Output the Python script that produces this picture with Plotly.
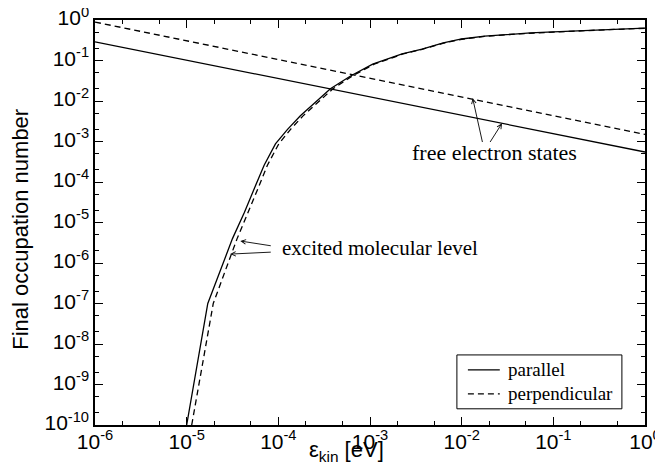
import plotly.graph_objects as go

# ---- data ----
free_x = [1e-6, 1.0]
free_par_y = [0.29, 5.5e-4]
free_perp_y = [0.89, 1.5e-3]

exc_par_x = [1.0e-5, 1.7e-5, 3.16e-5, 4.27e-5, 5.5e-5, 7.0e-5, 9.3e-5, 1.26e-4, 1.74e-4,
             3.7e-4, 6.2e-4, 1.07e-3, 2.24e-3, 3.7e-3, 6.3e-3, 1e-2, 1.78e-2, 3.16e-2,
             5.62e-2, 0.1, 0.316, 1.0]
exc_par_y = [1e-10, 1e-7, 4.0e-6, 1.8e-5, 7.1e-5, 2.6e-4, 8.7e-4, 2.0e-3, 4.3e-3,
             0.020, 0.042, 0.081, 0.145, 0.19, 0.272, 0.34, 0.398, 0.442,
             0.479, 0.507, 0.569, 0.631]

exc_perp_x = [1.135e-5, 1.95e-5, 3.55e-5, 4.73e-5, 6.03e-5, 7.6e-5, 1.01e-4, 1.36e-4, 1.86e-4,
              3.94e-4, 6.46e-4, 1.11e-3, 2.29e-3, 3.76e-3, 6.35e-3, 1e-2, 1.78e-2, 3.16e-2,
              5.62e-2, 0.1, 0.316, 1.0]
exc_perp_y = [1e-10, 1e-7, 4.0e-6, 1.8e-5, 7.1e-5, 2.6e-4, 8.7e-4, 2.0e-3, 4.3e-3,
              0.020, 0.042, 0.081, 0.145, 0.19, 0.268, 0.335, 0.393, 0.437,
              0.474, 0.502, 0.564, 0.625]

x_tickvals = [1e-6, 1e-5, 1e-4, 1e-3, 1e-2, 1e-1, 1e0]
x_ticktext = ["10<sup>-6</sup>", "10<sup>-5</sup>", "10<sup>-4</sup>", "10<sup>-3</sup>",
              "10<sup>-2</sup>", "10<sup>-1</sup>", "10<sup>0</sup>"]
y_tickvals = [1e-10, 1e-9, 1e-8, 1e-7, 1e-6, 1e-5, 1e-4, 1e-3, 1e-2, 1e-1, 1e0]
y_ticktext = ["10<sup>-10</sup>", "10<sup>-9</sup>", "10<sup>-8</sup>", "10<sup>-7</sup>",
              "10<sup>-6</sup>", "10<sup>-5</sup>", "10<sup>-4</sup>", "10<sup>-3</sup>",
              "10<sup>-2</sup>", "10<sup>-1</sup>", "10<sup>0</sup>"]
legend_names = ["parallel", "perpendicular"]

SANS = "Liberation Sans, Arial, sans-serif"
SERIF = "Liberation Serif, Times New Roman, serif"
LW = 1.3
DASH = "6px,4px"
DASHES = ["solid", DASH]

fig = go.Figure()
fig.add_trace(go.Scatter(x=free_x, y=free_par_y, mode="lines",
                         line=dict(color="black", width=LW), name=legend_names[0]))
fig.add_trace(go.Scatter(x=free_x, y=free_perp_y, mode="lines",
                         line=dict(color="black", width=LW, dash=DASH), name=legend_names[1]))
fig.add_trace(go.Scatter(x=exc_par_x, y=exc_par_y, mode="lines",
                         line=dict(color="black", width=LW), name=legend_names[0]))
fig.add_trace(go.Scatter(x=exc_perp_x, y=exc_perp_y, mode="lines",
                         line=dict(color="black", width=LW, dash=DASH), name=legend_names[1]))

axis_common = dict(
    type="log", showgrid=False, zeroline=False,
    showline=True, linecolor="black", linewidth=1.5, mirror="ticks",
    ticks="inside", ticklen=8, tickwidth=1, tickcolor="black",
    minor=dict(ticks="inside", ticklen=4, tickwidth=1, tickcolor="black", showgrid=False),
    tickfont=dict(family=SANS, size=21, color="black"),
    ticklabeloverflow="allow",
)

fig.update_xaxes(**axis_common, range=[-6, 0], tickvals=x_tickvals, ticktext=x_ticktext,
                 ticklabelstandoff=-3)
fig.update_yaxes(**axis_common, range=[-10, 0], tickvals=y_tickvals, ticktext=y_ticktext,
                 ticklabelshift=-2)

ann = []
# axis titles
ann.append(dict(x=0.458, y=-0.102, xref="paper", yref="paper", text="ε<sub>kin</sub> [eV]",
                showarrow=False, xanchor="center", yanchor="bottom", borderpad=0,
                font=dict(family=SANS, size=22, color="black")))
ann.append(dict(x=-0.135, y=0.484, xref="paper", yref="paper", text="Final occupation number",
                showarrow=False, xanchor="center", yanchor="middle", textangle=-90,
                font=dict(family=SANS, size=22, color="black")))
# text labels with arrows (positions in log10 data coordinates)
ann.append(dict(x=-3.98, y=-5.63, xref="x", yref="y", text="excited molecular level",
                showarrow=False, xanchor="left", yanchor="middle",
                font=dict(family=SERIF, size=21, color="black")))
for hx, hy, tx, ty in [(-4.415, -5.457, -4.066, -5.58), (-4.525, -5.78, -4.066, -5.73)]:
    ann.append(dict(x=hx, y=hy, ax=tx, ay=ty, xref="x", yref="y", axref="x", ayref="y",
                    text="", showarrow=True, arrowhead=5, arrowsize=1, arrowwidth=0.9,
                    arrowcolor="black"))
ann.append(dict(x=-1.64, y=-3.28, xref="x", yref="y", text="free electron states",
                showarrow=False, xanchor="center", yanchor="middle",
                font=dict(family=SERIF, size=22, color="black")))
for hx, hy, tx, ty in [(-1.88, -1.93, -1.77, -3.05), (-1.56, -2.55, -1.70, -3.05)]:
    ann.append(dict(x=hx, y=hy, ax=tx, ay=ty, xref="x", yref="y", axref="x", ayref="y",
                    text="", showarrow=True, arrowhead=5, arrowsize=1, arrowwidth=0.9,
                    arrowcolor="black"))

# legend box (drawn in paper coordinates, lower right of the plot)
shapes = [dict(type="rect", xref="paper", yref="paper", x0=0.658, x1=0.958, y0=0.04, y1=0.173,
               line=dict(color="black", width=1), fillcolor="white", layer="above")]
for i, (name, dash) in enumerate(zip(legend_names, DASHES)):
    yy = 0.136 - i * 0.059
    shapes.append(dict(type="line", xref="paper", yref="paper", x0=0.678, x1=0.736, y0=yy, y1=yy,
                       line=dict(color="black", width=LW, dash=dash), layer="above"))
    ann.append(dict(x=0.748, y=yy, xref="paper", yref="paper", text=name, showarrow=False,
                    xanchor="left", yanchor="middle",
                    font=dict(family=SERIF, size=19, color="black")))

# the page body adds an 8 px offset; margins compensate for it
fig.update_layout(
    width=663, height=465,
    margin=dict(l=87, r=26, t=12, b=48, autoexpand=False),
    paper_bgcolor="white", plot_bgcolor="white",
    annotations=ann, shapes=shapes,
    showlegend=False,
)

fig.write_html("out.html")
